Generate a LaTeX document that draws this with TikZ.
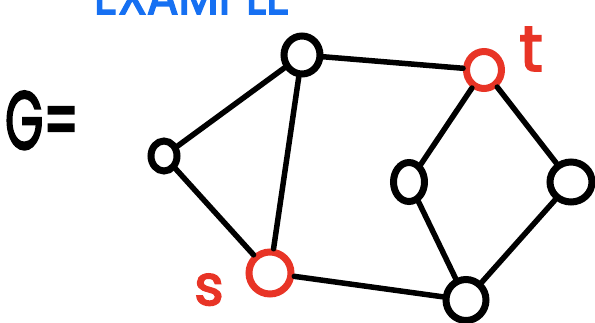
\documentclass[tikz,border=0pt]{standalone}
\usepackage{fontspec}
\usetikzlibrary{shapes.geometric}
\setmainfont{Poppins}
\newfontfamily\hand{Poppins}[FakeBold=3]
\definecolor{hred}{RGB}{232,52,38}
\definecolor{hblue}{RGB}{22,112,242}
\begin{document}
\begin{tikzpicture}[x=1pt,y=-1pt,
  v/.style={ellipse, draw=black, line width=7pt, inner sep=0pt},
  vr/.style={v, draw=hred},
  e/.style={line width=5.5pt, line cap=round, black},
  lab/.style={inner sep=0pt, anchor=base}]
\useasboundingbox (0,0) rectangle (595,322);
\node[lab, text=hblue, font=\hand\fontsize{52}{52}\selectfont, xscale=0.9] (ex) at (192,14) {EXAMPLE};
\node[lab, font=\hand\fontsize{82}{82}\selectfont, xscale=0.6] (g) at (42,149) {G=};
\node[lab, text=hred, font=\hand\fontsize{64}{64}\selectfont] (tl) at (531,71) {t};
\node[lab, text=hred, font=\hand\fontsize{56}{56}\selectfont] (sl) at (209,305) {s};
\node[v, minimum width=26pt, minimum height=30pt] (a) at (164,156) {};
\node[v, minimum width=36pt, minimum height=38pt] (b) at (302,55) {};
\node[vr, minimum width=35pt, minimum height=37pt] (t) at (484,70) {};
\node[vr, minimum width=42pt, minimum height=42pt] (s) at (270,273) {};
\node[v, minimum width=31pt, minimum height=39pt] (c) at (409,182) {};
\node[v, minimum width=42pt, minimum height=40pt] (d) at (571,182) {};
\node[v, minimum width=40pt, minimum height=41pt] (f) at (466,300) {};
\draw[e] (a) -- (b);
\draw[e] (a) -- (s);
\draw[e] (b) -- (s);
\draw[e] (b) -- (t);
\draw[e] (t) -- (c);
\draw[e] (t) -- (d);
\draw[e] (c) -- (f);
\draw[e] (d) -- (f);
\draw[e] (s) -- (f);
\end{tikzpicture}
\end{document}
